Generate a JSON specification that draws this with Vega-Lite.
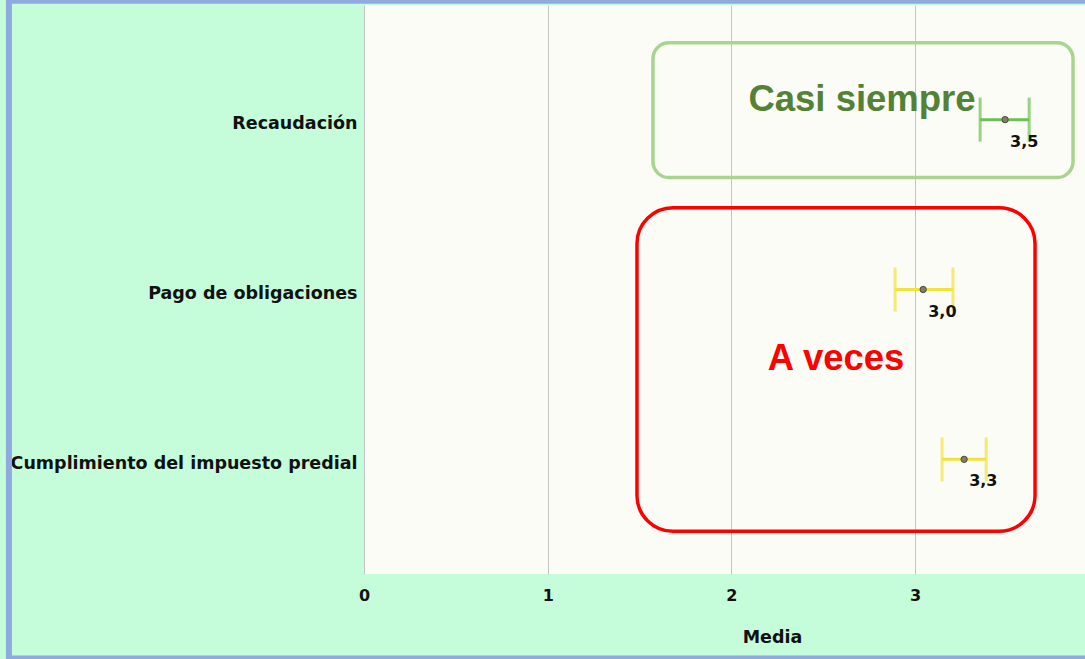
{
  "$schema": "https://vega.github.io/schema/vega-lite/v6.json",
  "width": 721,
  "height": 569,
  "autosize": {"type": "none"},
  "padding": {"left": 364, "top": 5, "right": 0, "bottom": 85},
  "background": "#c5fcd9",
  "config": {
    "view": {"fill": "#fcfcf6", "stroke": null},
    "axis": {"domain": false, "ticks": false, "tickSize": 0},
    "axisX": {
      "grid": true,
      "gridColor": "#c4c4c4",
      "gridWidth": 1,
      "labelFlush": false,
      "labelFont": "DejaVu Sans",
      "labelFontWeight": "bold",
      "labelFontSize": 16,
      "labelColor": "#111111",
      "labelPadding": 13,
      "titleFont": "DejaVu Sans",
      "titleFontWeight": "bold",
      "titleFontSize": 17.5,
      "titleColor": "#111111",
      "titlePadding": 25,
      "titleX": 408,
      "titleAlign": "center"
    }
  },
  "datasets": {
    "medias": [
      {"dimension": "Recaudación", "nivel": "Casi siempre", "media": 3.49, "inferior": 3.354, "superior": 3.621, "etiqueta": "3,5"},
      {"dimension": "Pago de obligaciones", "nivel": "A veces", "media": 3.044, "inferior": 2.891, "superior": 3.206, "etiqueta": "3,0"},
      {"dimension": "Cumplimiento del impuesto predial", "nivel": "A veces", "media": 3.267, "inferior": 3.147, "superior": 3.387, "etiqueta": "3,3"}
    ],
    "zonas": [
      {"zona": "Casi siempre", "x1": 1.573, "x2": 3.86, "y1": -0.453, "y2": 0.341, "tx": 2.711, "ty": -0.053},
      {"zona": "A veces", "x1": 1.486, "x2": 3.653, "y1": 0.518, "y2": 2.424, "tx": 2.57, "ty": 1.476}
    ],
    "marco": [
      {"x1": -1.933, "x2": 3.964, "y1": -0.7, "y2": 3.172}
    ]
  },
  "layer": [
    {
      "layer": [
        {
          "data": {"name": "zonas"},
          "transform": [{"filter": "datum.zona === 'Casi siempre'"}],
          "mark": {"type": "rect", "fill": null, "filled": false, "stroke": "#a9d48f", "strokeWidth": 3.5, "cornerRadius": 16},
          "encoding": {
            "x": {"field": "x1", "type": "quantitative", "title": "Media", "scale": {"domain": [0, 3.925], "nice": false, "zero": false}, "axis": {"values": [0, 1, 2, 3], "format": "d"}},
            "x2": {"field": "x2"},
            "y": {"field": "y1", "type": "quantitative", "axis": null, "scale": {"domain": [-0.675, 2.675], "reverse": true, "nice": false, "zero": false}},
            "y2": {"field": "y2"}
          }
        },
        {
          "data": {"name": "zonas"},
          "transform": [{"filter": "datum.zona === 'A veces'"}],
          "mark": {"type": "rect", "fill": null, "filled": false, "stroke": "#ff0000", "strokeWidth": 3.5, "cornerRadius": 36},
          "encoding": {
            "x": {"field": "x1", "type": "quantitative", "title": "Media", "axis": {"values": [0, 1, 2, 3], "format": "d"}},
            "x2": {"field": "x2"},
            "y": {"field": "y1", "type": "quantitative", "axis": null},
            "y2": {"field": "y2"}
          }
        },
        {
          "data": {"name": "zonas"},
          "mark": {"type": "text", "font": "Liberation Sans", "fontWeight": "bold", "fontSize": 36.5, "align": "center", "baseline": "alphabetic"},
          "encoding": {
            "x": {"field": "tx", "type": "quantitative", "title": "Media", "axis": {"values": [0, 1, 2, 3], "format": "d"}},
            "y": {"field": "ty", "type": "quantitative", "axis": null},
            "text": {"field": "zona"},
            "color": {"field": "zona", "type": "nominal", "legend": null, "scale": {"domain": ["Casi siempre", "A veces"], "range": ["#538135", "#ff0000"]}}
          }
        },
        {
          "data": {"name": "marco"},
          "mark": {"type": "rect", "fill": null, "filled": false, "stroke": "#8eaadf", "strokeWidth": 6},
          "encoding": {
            "x": {"field": "x1", "type": "quantitative", "title": "Media", "axis": {"values": [0, 1, 2, 3], "format": "d"}},
            "x2": {"field": "x2"},
            "y": {"field": "y1", "type": "quantitative", "axis": null},
            "y2": {"field": "y2"}
          }
        }
      ]
    },
    {
      "data": {"name": "medias"},
      "encoding": {
        "y": {
          "field": "dimension",
          "type": "nominal",
          "sort": ["Recaudación", "Pago de obligaciones", "Cumplimiento del impuesto predial"],
          "scale": {"type": "point", "padding": 0.675},
          "axis": {
            "title": null,
            "labelFont": "DejaVu Sans",
            "labelFontWeight": "bold",
            "labelFontSize": 17.5,
            "labelColor": "#111111",
            "labelPadding": 7,
            "labelOffset": 4,
            "labelLimit": 400,
            "grid": false
          }
        }
      },
      "layer": [
        {
          "mark": {"type": "rule", "strokeWidth": 3},
          "encoding": {
            "x": {"field": "inferior", "type": "quantitative", "title": "Media", "axis": {"values": [0, 1, 2, 3], "format": "d"}},
            "x2": {"field": "superior"},
            "color": {"field": "nivel", "type": "nominal", "legend": null, "scale": {"domain": ["Casi siempre", "A veces"], "range": ["#6fc052", "#f2e23c"]}}
          }
        },
        {
          "mark": {"type": "tick", "size": 44, "thickness": 3},
          "encoding": {
            "x": {"field": "inferior", "type": "quantitative", "title": "Media", "axis": {"values": [0, 1, 2, 3], "format": "d"}},
            "color": {"field": "nivel", "type": "nominal", "legend": null}
          }
        },
        {
          "mark": {"type": "tick", "size": 44, "thickness": 3},
          "encoding": {
            "x": {"field": "superior", "type": "quantitative", "title": "Media", "axis": {"values": [0, 1, 2, 3], "format": "d"}},
            "color": {"field": "nivel", "type": "nominal", "legend": null}
          }
        },
        {
          "mark": {"type": "point", "filled": true, "size": 40, "fill": "#7f7f66", "stroke": "#4a4a3a", "strokeWidth": 1, "opacity": 1},
          "encoding": {
            "x": {"field": "media", "type": "quantitative", "title": "Media", "axis": {"values": [0, 1, 2, 3], "format": "d"}}
          }
        },
        {
          "mark": {"type": "text", "font": "DejaVu Sans", "fontWeight": "bold", "fontSize": 16, "align": "left", "baseline": "alphabetic", "dx": 5, "dy": 27, "color": "#111111"},
          "encoding": {
            "x": {"field": "media", "type": "quantitative", "title": "Media", "axis": {"values": [0, 1, 2, 3], "format": "d"}},
            "text": {"field": "etiqueta"}
          }
        }
      ]
    }
  ],
  "resolve": {"scale": {"y": "independent", "color": "independent"}}
}
